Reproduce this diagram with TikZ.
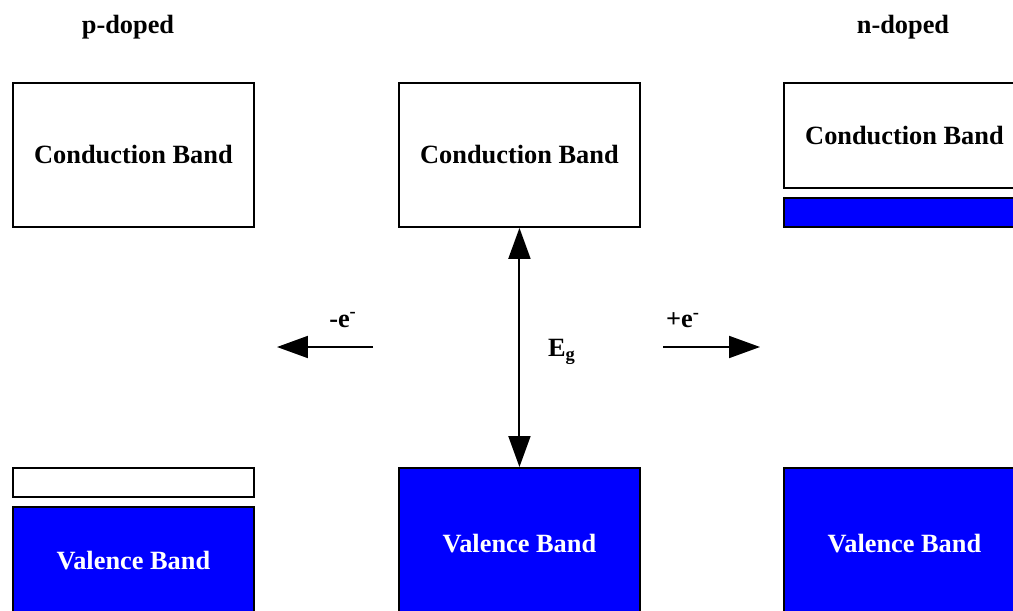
\documentclass[tikz,border=0pt]{standalone}
\usepackage{fontspec}
\setmainfont{Liberation Serif}
\usetikzlibrary{positioning, arrows.meta}

\begin{document}
\begin{tikzpicture}[
            x=0.02cm, y=-0.02cm,
            band/.style={
                rectangle,
                draw=black,
                line width=1.1pt,
                minimum width=4.82cm,
                anchor=north west,
                inner sep=0pt,
                font=\fontsize{15}{18}\selectfont\bfseries
            },
            empty/.style={
                band,
                fill=white,
                text=black
            },
            filled/.style={
                band,
                fill=blue,
                text=white
            },
            label/.style={
                font=\fontsize{15}{18}\selectfont\bfseries
            },
            arrow/.style={
                -{Triangle[length=0.62cm, width=0.44cm]},
                line width=1.1pt
            }
        ]
            \clip (0,0) rectangle (1013,611);

            \node [label] (ptitle) at (128,27) {p-doped};
            \node [label] (ntitle) at (903,27) {n-doped};

            % conduction bands
            \node [empty, minimum height=2.88cm] (pcb) at (12,82) {Conduction Band};
            \node [empty, minimum height=2.88cm] (icb) at (398,82) {Conduction Band};
            \node [empty, minimum height=2.1cm] (ncb) at (783,82) {Conduction Band};
            \node [filled, minimum height=0.58cm, below=0.16cm of ncb.south west, anchor=north west] (nstrip) {};

            % valence bands
            \node [empty, minimum height=0.58cm] (phole) at (12,467) {};
            \node [filled, minimum height=2.16cm, below=0.16cm of phole.south west, anchor=north west] (pvb) {Valence Band};
            \node [filled, minimum height=3.04cm] (ivb) at (398,467) {Valence Band};
            \node [filled, minimum height=3.04cm] (nvb) at (783,467) {Valence Band};

            % band gap
            \draw [arrow, {Triangle[length=0.62cm, width=0.44cm]}-{Triangle[length=0.62cm, width=0.44cm]}] (icb.south) -- (ivb.north);
            \node [label] (gap) at (562,352) {E\textsubscript{g}};

            % doping arrows
            \coordinate (pstart) at (373,347);
            \coordinate (pend) at (277,347);
            \coordinate (nstart) at (663,347);
            \coordinate (nend) at (760,347);

            \draw [arrow] (pstart) -- (pend);
            \draw [arrow] (nstart) -- (nend);
            \node [label] (minus) at (343,320) {-e\textsuperscript{-}};
            \node [label] (plus) at (683,320) {+e\textsuperscript{-}};

        \end{tikzpicture}
\end{document}
